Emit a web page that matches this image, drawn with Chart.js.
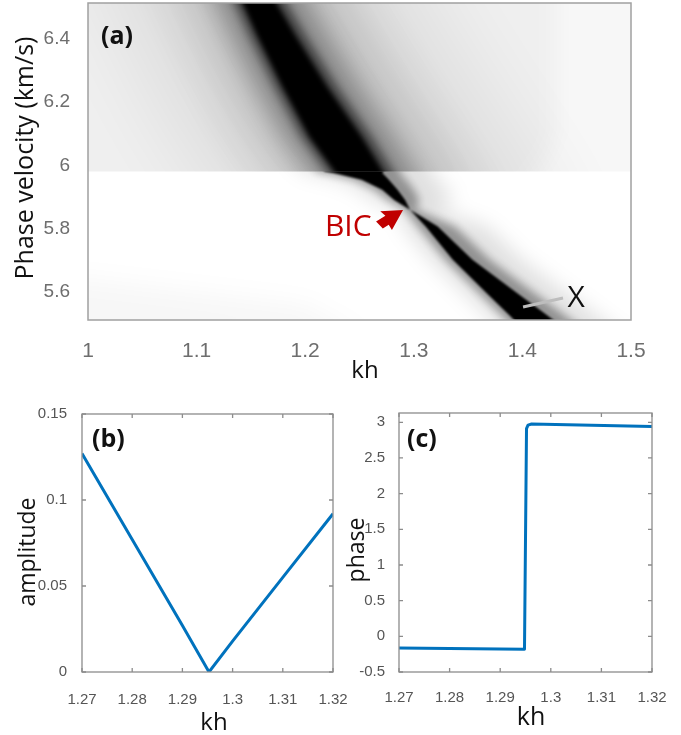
<!DOCTYPE html>
<html>
<head>
<meta charset="utf-8">
<script src="https://cdn.jsdelivr.net/npm/chart.js@4/dist/chart.umd.min.js"></script>
<style>
  html, body { margin: 0; padding: 0; background: #fff; overflow: hidden; }
  #wrap { position: relative; width: 681px; height: 735px; }
  canvas { position: absolute; }
</style>
</head>
<body>
<div id="wrap">
  <canvas id="chartA" width="681" height="390" style="left:0;top:0"></canvas>
  <canvas id="chartB" width="360" height="355" style="left:0;top:380px"></canvas>
  <canvas id="chartC" width="341" height="355" style="left:340px;top:380px"></canvas>
</div>
<script>
// ---------- (a) dispersion map ----------
const khTicksA = [1, 1.1, 1.2, 1.3, 1.4, 1.5];
const vTicksA = [5.6, 5.8, 6, 6.2, 6.4];

// velocity where the map has its sharp horizontal edge
const cutV = 5.981;

// upper band (v > cutV): kh of edges read at these velocities
const upperV   = [6.85, 6.51, 6.41, 6.25, 6.09, 6.00, 5.70];
const coreL    = [1.099, 1.143, 1.156, 1.179, 1.204, 1.223, 1.286];
const coreR    = [1.116, 1.174, 1.191, 1.220, 1.252, 1.268, 1.321];
const halo4L   = [1.092, 1.136, 1.149, 1.172, 1.197, 1.216, 1.279];
const halo4R   = [1.125, 1.183, 1.200, 1.229, 1.261, 1.277, 1.330];
const halo3L   = [1.076, 1.120, 1.133, 1.156, 1.181, 1.200, 1.263];
const halo3R   = [1.144, 1.202, 1.219, 1.248, 1.280, 1.296, 1.349];
const halo2L   = [1.044, 1.088, 1.101, 1.124, 1.149, 1.168, 1.231];
const halo2R   = [1.185, 1.243, 1.260, 1.289, 1.321, 1.337, 1.390];
const halo1L   = [0.979, 1.023, 1.036, 1.059, 1.084, 1.103, 1.166];
const halo1R   = [1.254, 1.312, 1.329, 1.358, 1.390, 1.406, 1.459];

// light grey tint of the upper half, and the slightly darker part left of kh~1.43
const tintV = [5.90, 6.85];
const tintL = [0.90, 0.90];
const tintR = [1.60, 1.60];
const faintV = [5.90, 5.985, 6.03, 6.10, 6.85];
const faintL = [0.90, 0.90, 0.90, 0.90, 0.90];
const faintR = [1.400, 1.415, 1.425, 1.432, 1.432];

// lower branch (v < cutV), pinched at the BIC
const lowerV   = [6.06, 5.981, 5.976, 5.955, 5.923, 5.891, 5.860, 5.807, 5.702, 5.597, 5.523, 5.45];
const lowCoreL = [1.200, 1.218, 1.226, 1.252, 1.271, 1.282, 1.2966, 1.311, 1.336, 1.367, 1.389, 1.410];
const lowCoreR = [1.260, 1.272, 1.271, 1.277, 1.285, 1.292, 1.2966, 1.322, 1.354, 1.395, 1.424, 1.452];
const lowHaloL = [1.193, 1.211, 1.219, 1.245, 1.264, 1.276, 1.292, 1.304, 1.329, 1.360, 1.382, 1.403];
const lowHaloR = [1.276, 1.288, 1.287, 1.293, 1.300, 1.305, 1.302, 1.338, 1.370, 1.411, 1.440, 1.468];
const lowWideL = [1.180, 1.198, 1.206, 1.232, 1.251, 1.262, 1.285, 1.291, 1.316, 1.347, 1.369, 1.390];
const lowWideR = [1.305, 1.317, 1.316, 1.322, 1.330, 1.337, 1.320, 1.367, 1.399, 1.440, 1.469, 1.497];

// faint grey patch bottom left
const patchKh = [0.95, 1.26, 1.20, 1.00, 0.95];
const patchV  = [5.45, 5.45, 5.56, 5.64, 5.66];

// annotations
const bicLabel = [1.2182, 5.8055];
const bicTip   = [1.2901, 5.8593];
const xMarkKh  = [1.4006, 1.4374];
const xMarkV   = [5.5526, 5.5810];
const xLabel   = [1.4494, 5.5810];

// ---------- (b) amplitude ----------
const khTicksBC = [1.27, 1.28, 1.29, 1.3, 1.31, 1.32];
const ampTicks = [0, 0.05, 0.1, 0.15];
const ampKh = [1.27, 1.28, 1.29, 1.2953, 1.30, 1.31, 1.32];
const amplitude = [0.127, 0.077, 0.027, 0, 0.018, 0.055, 0.092];

// ---------- (c) phase ----------
const phaseTicks = [-0.5, 0, 0.5, 1, 1.5, 2, 2.5, 3];
const phaseKh = [1.27, 1.2948, 1.2952, 1.2955, 1.2962, 1.32];
const phase = [-0.165, -0.18, 2.91, 2.96, 2.975, 2.94];


function poly(v, left, right) {
    const a = left.map((x, i) => ({ x: x, y: v[i] }));
    const b = right.map((x, i) => ({ x: x, y: v[i] })).reverse();
    return a.concat(b);
}

function shade(data, color, blur, region, order) {
    return { data: data, shade: { color: color, blur: blur, region: region },
             order: order, showLine: true, pointRadius: 0, borderWidth: 0 };
}

// fills the polygon of a dataset (through the chart scales), blurred and clipped to one half of the map
const shadePlugin = {
    id: 'shade',
    beforeDatasetDraw(chart, args) {
        const ds = chart.data.datasets[args.index];
        if (!ds.shade) return;
        const { ctx, chartArea: a } = chart;
        const xs = chart.scales.x, ys = chart.scales.y;
        const yc = ys.getPixelForValue(cutV);
        ctx.save();
        ctx.beginPath();
        if (ds.shade.region === 'upper') ctx.rect(a.left, a.top, a.right - a.left, yc - a.top);
        else ctx.rect(a.left, yc, a.right - a.left, a.bottom - yc);
        ctx.clip();
        ctx.filter = ds.shade.blur ? 'blur(' + ds.shade.blur + 'px)' : 'none';
        ctx.fillStyle = ds.shade.color;
        ctx.beginPath();
        ds.data.forEach((p, i) => {
            const px = xs.getPixelForValue(p.x), py = ys.getPixelForValue(p.y);
            if (i) ctx.lineTo(px, py); else ctx.moveTo(px, py);
        });
        ctx.closePath();
        ctx.fill();
        ctx.restore();
        return false;
    }
};

// matlab style box with optional inner ticks
function boxPlugin(color, width, tickLen) {
    return {
        id: 'box',
        afterDatasetsDraw(chart) {
            const { ctx, chartArea: a } = chart;
            const xs = chart.scales.x, ys = chart.scales.y;
            ctx.save();
            ctx.strokeStyle = color;
            ctx.lineWidth = width;
            if (tickLen) {
                ctx.beginPath();
                xs.ticks.forEach(t => {
                    const px = xs.getPixelForValue(t.value);
                    ctx.moveTo(px, a.bottom); ctx.lineTo(px, a.bottom - tickLen);
                    ctx.moveTo(px, a.top); ctx.lineTo(px, a.top + tickLen);
                });
                ys.ticks.forEach(t => {
                    const py = ys.getPixelForValue(t.value);
                    ctx.moveTo(a.left, py); ctx.lineTo(a.left + tickLen, py);
                    ctx.moveTo(a.right, py); ctx.lineTo(a.right - tickLen, py);
                });
                ctx.stroke();
            }
            ctx.strokeRect(a.left, a.top, a.right - a.left, a.bottom - a.top);
            ctx.restore();
        }
    };
}

// texts: pixel position, or data position when t.data is set
function textPlugin(items, extra) {
    return {
        id: 'texts',
        afterDraw(chart) {
            const ctx = chart.ctx;
            items.forEach(t => {
                let px = t.x, py = t.y;
                if (t.data) {
                    px = chart.scales.x.getPixelForValue(t.x);
                    py = chart.scales.y.getPixelForValue(t.y);
                }
                ctx.save();
                ctx.translate(px, py);
                if (t.rotate) ctx.rotate(t.rotate);
                ctx.font = t.font;
                ctx.fillStyle = t.color || '#111';
                ctx.textAlign = t.align || 'center';
                ctx.textBaseline = t.baseline || 'middle';
                ctx.fillText(t.text, 0, 0);
                ctx.restore();
            });
            if (extra) extra(chart);
        }
    };
}

function drawBicArrow(chart) {
    const ctx = chart.ctx;
    const tx = chart.scales.x.getPixelForValue(bicTip[0]);
    const ty = chart.scales.y.getPixelForValue(bicTip[1]);
    ctx.save();
    ctx.translate(tx, ty);
    ctx.rotate(Math.atan2(-10, 16));
    ctx.fillStyle = '#c00000';
    ctx.beginPath();
    ctx.moveTo(0, 0);
    ctx.lineTo(-20, -11);
    ctx.lineTo(-18, -4.5);
    ctx.lineTo(-29, -4.5);
    ctx.lineTo(-27, 5);
    ctx.lineTo(-20, 5);
    ctx.lineTo(-20, 11);
    ctx.closePath();
    ctx.fill();
    ctx.restore();
}

function fixedAxis(opts) {
    return {
        type: 'linear',
        min: opts.min,
        max: opts.max,
        grid: { display: false },
        border: { display: false },
        afterBuildTicks: s => { s.ticks = opts.ticks.map(v => ({ value: v })); },
        afterFit: s => {
            if (opts.height) s.height = opts.height;
            if (opts.width) s.width = opts.width;
            s.paddingLeft = 0; s.paddingRight = 0; s.paddingTop = 0; s.paddingBottom = 0;
        },
        ticks: {
            autoSkip: false,
            maxRotation: 0,
            padding: opts.pad,
            color: opts.color,
            font: { family: 'Liberation Sans', size: opts.size },
            callback: v => String(v)
        }
    };
}

const common = {
    responsive: false,
    animation: false,
    devicePixelRatio: 1,
    plugins: { legend: { display: false }, tooltip: { enabled: false } }
};

// ---------- chart (a) ----------
new Chart(document.getElementById('chartA'), {
    type: 'scatter',
    data: {
        datasets: [
            { data: xMarkKh.map((x, i) => ({ x: x, y: xMarkV[i] })), showLine: true, pointRadius: 0,
              borderColor: '#bdbdbd', borderWidth: 3, order: 1 },
            shade(poly(lowerV, lowCoreL, lowCoreR), '#000', 1.2, 'lower', 11),
            shade(poly(lowerV, lowHaloL, lowHaloR), 'rgba(0,0,0,0.35)', 4, 'lower', 12),
            shade(poly(lowerV, lowWideL, lowWideR), 'rgba(0,0,0,0.12)', 10, 'lower', 13),
            shade(patchKh.map((x, i) => ({ x: x, y: patchV[i] })), 'rgba(0,0,0,0.03)', 12, 'lower', 14),
            shade(poly(upperV, coreL, coreR), '#000', 2.5, 'upper', 15),
            shade(poly(upperV, halo4L, halo4R), 'rgba(0,0,0,0.55)', 5, 'upper', 16),
            shade(poly(upperV, halo3L, halo3R), 'rgba(0,0,0,0.3)', 12, 'upper', 17),
            shade(poly(upperV, halo2L, halo2R), 'rgba(0,0,0,0.15)', 25, 'upper', 18),
            shade(poly(upperV, halo1L, halo1R), 'rgba(0,0,0,0.08)', 45, 'upper', 19),
            shade(poly(faintV, faintL, faintR), 'rgba(0,0,0,0.035)', 12, 'upper', 20),
            shade(poly(tintV, tintL, tintR), 'rgba(0,0,0,0.03)', 0, 'upper', 21)
        ]
    },
    options: Object.assign({}, common, {
        layout: { padding: { left: 0, top: 3, right: 50, bottom: 0 } },
        scales: {
            x: fixedAxis({ min: 1, max: 1.5, ticks: khTicksA, height: 70, pad: 11, color: '#6e6e6e', size: 21 }),
            y: fixedAxis({ min: 5.5115, max: 6.5138, ticks: vTicksA, width: 88, pad: 10, color: '#6e6e6e', size: 19 })
        }
    }),
    plugins: [shadePlugin, boxPlugin('#a0a0a0', 1.5, 0), textPlugin([
        { text: '(a)', x: 101, y: 37, align: 'left', font: 'bold 25px "Open Sans"' },
        { text: 'Phase velocity (km/s)', x: 26, y: 158, rotate: -Math.PI / 2, font: '25px "Open Sans"' },
        { text: 'kh', x: 365, y: 378, baseline: 'alphabetic', font: '24px "Open Sans"' },
        { text: 'BIC', x: bicLabel[0], y: bicLabel[1], data: true, align: 'left', color: '#c00000', font: '30px "Open Sans"' },
        { text: 'X', x: xLabel[0], y: xLabel[1], data: true, font: '30px "Open Sans"' }
    ], drawBicArrow)]
});

// ---------- chart (b) ----------
new Chart(document.getElementById('chartB'), {
    type: 'scatter',
    data: {
        datasets: [{
            data: ampKh.map((x, i) => ({ x: x, y: amplitude[i] })),
            showLine: true, pointRadius: 0, borderColor: '#0072BD', borderWidth: 3, borderJoinStyle: 'round'
        }]
    },
    options: Object.assign({}, common, {
        layout: { padding: { left: 0, top: 34, right: 27, bottom: 0 } },
        scales: {
            x: fixedAxis({ min: 1.27, max: 1.32, ticks: khTicksBC, height: 63, pad: 11, color: '#555', size: 15 }),
            y: fixedAxis({ min: 0, max: 0.15, ticks: ampTicks, width: 82, pad: 7, color: '#555', size: 15 })
        }
    }),
    plugins: [boxPlugin('#8c8c8c', 1.3, 4), textPlugin([
        { text: '(b)', x: 92, y: 60, align: 'left', font: 'bold 25px "Open Sans"' },
        { text: 'amplitude', x: 28, y: 172, rotate: -Math.PI / 2, font: '23px "Open Sans"' },
        { text: 'kh', x: 214, y: 350, baseline: 'alphabetic', font: '24px "Open Sans"' }
    ])]
});

// ---------- chart (c) ----------
new Chart(document.getElementById('chartC'), {
    type: 'scatter',
    data: {
        datasets: [{
            data: phaseKh.map((x, i) => ({ x: x, y: phase[i] })),
            showLine: true, pointRadius: 0, borderColor: '#0072BD', borderWidth: 3, borderJoinStyle: 'round'
        }]
    },
    options: Object.assign({}, common, {
        layout: { padding: { left: 0, top: 33, right: 29, bottom: 0 } },
        scales: {
            x: fixedAxis({ min: 1.27, max: 1.32, ticks: khTicksBC, height: 63, pad: 9, color: '#555', size: 15 }),
            y: fixedAxis({ min: -0.5, max: 3.13, ticks: phaseTicks, width: 59, pad: 6, color: '#555', size: 15 })
        }
    }),
    plugins: [boxPlugin('#8c8c8c', 1.3, 4), textPlugin([
        { text: '(c)', x: 67, y: 60, align: 'left', font: 'bold 25px "Open Sans"' },
        { text: 'phase', x: 17, y: 170, rotate: -Math.PI / 2, font: '23px "Open Sans"' },
        { text: 'kh', x: 191, y: 345, baseline: 'alphabetic', font: '25px "Open Sans"' }
    ])]
});
</script>
</body>
</html>
